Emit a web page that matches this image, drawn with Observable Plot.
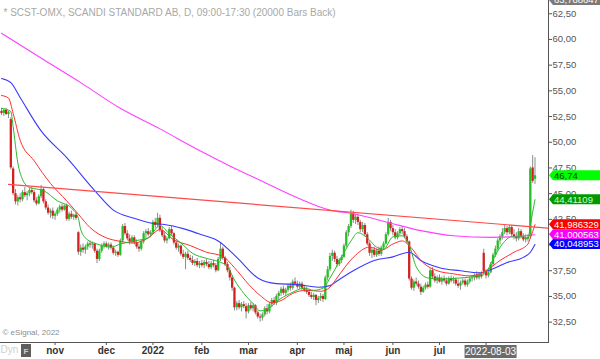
<!DOCTYPE html>
<html><head><meta charset="utf-8">
<script src="https://cdn.jsdelivr.net/npm/d3@7"></script>
<script src="https://cdn.jsdelivr.net/npm/@observablehq/plot@0.6"></script>
<style>body{margin:0;background:#fff;} #chart svg{display:block;}</style>
</head><body><div id="chart"></div>
<script>
// ---------- data ----------
const titleText = "* SCST-OMX, SCANDI STANDARD AB, D, 09:00-17:30 (20000 Bars Back)";
const copyrightText = "\u00a9 eSignal, 2022";
const dateBoxText = "2022-08-03";

const open = [
53.0,52.8,53.1,52.7,52.2,47.4,45.0,44.2,44.6,44.4,
45.1,44.8,45.0,45.3,45.1,44.3,44.0,44.7,45.4,44.2,
43.6,43.1,43.3,42.8,43.0,43.4,43.7,43.4,43.8,42.5,
43.0,42.7,42.9,41.2,39.3,39.7,39.5,39.8,40.1,40.0,
40.1,39.4,38.6,39.4,39.9,40.1,39.8,40.0,39.7,39.2,
39.3,39.0,40.4,41.8,41.1,40.6,40.3,40.7,40.2,39.8,
39.6,40.3,41.1,41.3,41.0,41.2,42.2,41.9,42.6,41.4,
40.9,40.4,40.6,41.5,41.1,40.2,39.7,39.9,39.1,38.8,
39.1,38.7,38.5,38.2,38.4,38.0,38.2,38.0,38.3,38.1,
37.8,38.2,38.0,37.5,38.6,39.6,38.7,38.1,37.5,36.8,
35.8,33.9,34.3,33.9,34.2,34.0,33.5,34.1,33.8,34.1,
33.4,33.0,32.9,33.2,33.8,33.5,34.2,34.6,34.3,35.0,
35.3,35.7,35.3,35.6,36.0,35.8,36.4,36.2,35.9,36.2,
35.8,35.6,35.4,35.1,34.9,35.1,34.6,34.8,35.0,34.7,
36.8,37.6,38.9,39.2,38.6,38.1,38.5,38.8,39.9,41.2,
41.8,43.0,42.4,42.7,42.2,41.5,41.9,41.0,40.1,39.2,
39.5,39.0,39.4,39.1,39.7,40.1,41.0,42.2,41.6,41.2,
40.7,41.1,41.5,41.3,40.8,40.3,36.7,35.8,36.4,36.2,
35.9,35.4,35.8,36.1,35.9,37.5,36.9,36.5,36.8,36.4,
36.7,36.5,36.2,36.7,36.5,36.6,36.2,36.0,36.3,36.5,
36.1,36.4,36.7,36.8,37.0,36.8,37.1,39.2,37.4,37.0,
37.3,38.1,39.0,39.6,40.4,40.8,41.2,41.6,41.2,41.7,
41.0,40.8,40.6,41.3,40.8,40.5,40.7,40.8,47.5,46.4];

const high = [
53.3,53.2,53.3,53.0,52.4,47.6,45.4,44.8,45.0,45.3,
45.6,45.2,45.5,45.6,45.3,44.6,44.9,45.8,45.6,44.4,
43.9,43.5,43.6,43.2,43.6,43.9,44.0,43.9,44.0,43.2,
43.3,43.0,43.1,41.3,40.0,40.1,40.0,40.3,40.4,40.3,
40.2,39.6,39.6,40.1,40.3,40.3,40.2,40.2,39.9,39.5,
39.4,40.6,42.0,42.1,41.4,41.0,40.9,40.9,40.5,40.1,
40.5,41.3,41.5,41.6,41.4,42.4,42.6,43.1,42.9,41.7,
41.2,40.8,41.7,41.8,41.2,40.4,40.1,40.0,39.5,39.3,
39.4,39.0,38.9,38.6,38.7,38.4,38.5,38.5,38.6,38.4,
38.4,38.5,38.2,38.8,40.2,39.8,38.9,38.3,37.8,37.0,
35.9,34.5,34.6,34.4,34.5,34.3,34.3,34.4,34.3,34.2,
33.6,33.3,33.4,34.0,34.2,34.4,34.8,34.9,35.2,35.5,
35.9,36.0,35.8,36.2,36.3,36.6,36.8,36.5,36.4,36.4,
36.1,35.9,35.7,35.4,35.3,35.2,35.0,35.3,35.2,37.0,
37.9,39.2,39.5,39.4,38.9,38.7,39.0,40.1,41.4,42.0,
43.4,43.3,42.9,43.0,42.4,42.2,42.1,41.2,40.3,39.7,
39.8,39.6,39.8,39.9,40.3,41.2,42.6,42.4,41.9,41.5,
41.3,41.7,41.8,41.6,41.0,40.4,36.9,36.6,36.8,36.5,
36.2,36.0,36.3,36.4,37.7,37.8,37.2,37.0,37.1,36.9,
37.0,36.8,36.9,37.0,36.9,36.8,36.6,36.5,36.7,36.7,
36.6,36.9,37.0,37.2,37.4,37.3,37.4,39.6,37.6,37.5,
38.3,39.2,39.9,40.6,41.0,41.6,41.9,41.8,41.9,41.9,
41.5,41.2,41.6,41.5,41.1,41.0,41.0,47.6,48.7,48.5];

const low = [
52.6,52.5,52.6,52.3,47.3,44.8,43.9,43.8,44.1,44.2,
44.6,44.3,44.7,44.9,44.1,43.8,43.9,44.5,44.0,43.4,
42.9,42.6,42.5,42.4,42.8,43.1,43.2,43.3,42.3,42.3,
42.5,42.4,42.4,39.0,38.9,39.2,39.1,39.5,39.7,39.6,
39.2,38.2,38.4,39.2,39.6,39.7,39.5,39.5,39.0,38.9,
38.8,38.9,40.2,40.9,40.4,40.0,40.1,40.0,39.6,39.3,
39.4,40.1,40.6,40.8,40.7,41.0,41.6,41.7,41.2,40.7,
40.2,40.1,40.5,40.9,40.0,39.5,39.3,38.9,38.6,37.6,
38.5,38.3,38.0,37.9,37.8,37.7,37.8,37.7,37.9,37.6,
37.6,37.8,37.3,37.4,38.4,38.5,37.9,37.3,36.5,35.5,
33.6,33.6,33.7,33.5,33.8,32.8,33.3,33.6,33.5,33.2,
32.8,32.5,32.6,33.0,33.2,33.3,33.9,34.1,34.1,34.6,
35.0,35.1,35.0,35.4,35.5,35.6,36.0,35.7,35.7,35.6,
35.4,35.2,34.9,34.7,34.6,34.1,34.3,34.5,34.4,34.6,
36.5,37.4,38.4,38.3,37.8,37.9,38.2,38.7,39.7,40.8,
41.6,42.1,42.0,41.9,41.2,41.2,40.8,39.9,38.9,38.7,
38.8,38.8,38.9,38.9,39.5,40.0,40.8,41.3,40.9,40.5,
40.5,40.9,41.0,40.6,40.1,36.5,35.6,35.5,36.0,35.7,
35.1,35.3,35.6,35.7,35.8,36.7,36.3,36.2,36.3,36.1,
36.3,36.0,36.1,36.3,36.2,36.0,35.8,35.6,36.1,35.9,
35.9,36.2,36.4,36.5,36.6,36.6,36.7,37.0,36.7,36.8,
37.2,37.9,38.8,39.4,40.0,40.5,41.0,40.9,41.0,40.8,
40.5,40.3,40.4,40.6,40.3,40.2,40.3,40.6,46.0,45.9];

const close = [
52.8,53.1,52.7,52.9,47.5,45.0,44.2,44.6,44.4,45.1,
44.8,45.0,45.3,45.1,44.3,44.0,44.7,45.4,44.2,43.6,
43.1,43.3,42.8,43.0,43.4,43.7,43.4,43.8,42.5,43.0,
42.7,42.9,42.6,39.3,39.7,39.5,39.8,40.1,40.0,40.1,
39.4,38.6,39.4,39.9,40.1,39.8,40.0,39.7,39.2,39.3,
39.0,40.4,41.8,41.1,40.6,40.3,40.7,40.2,39.8,39.6,
40.3,41.1,41.3,41.0,41.2,42.2,41.9,42.6,41.4,40.9,
40.4,40.6,41.5,41.1,40.2,39.7,39.9,39.1,38.8,39.1,
38.7,38.5,38.2,38.4,38.0,38.2,38.0,38.3,38.1,37.8,
38.2,38.0,37.5,38.6,39.6,38.7,38.1,37.5,36.8,35.8,
33.9,34.3,33.9,34.2,34.0,33.5,34.1,33.8,34.1,33.4,
33.0,32.9,33.2,33.8,33.5,34.2,34.6,34.3,35.0,35.3,
35.7,35.3,35.6,36.0,35.8,36.4,36.2,35.9,36.2,35.8,
35.6,35.4,35.1,34.9,35.1,34.6,34.8,35.0,34.7,36.8,
37.6,38.9,39.2,38.6,38.1,38.5,38.8,39.9,41.2,41.8,
43.0,42.4,42.7,42.2,41.5,41.9,41.0,40.1,39.2,39.5,
39.0,39.4,39.1,39.7,40.1,41.0,42.2,41.6,41.2,40.7,
41.1,41.5,41.3,40.8,40.3,36.7,35.8,36.4,36.2,35.9,
35.4,35.8,36.1,35.9,37.5,36.9,36.5,36.8,36.4,36.7,
36.5,36.2,36.7,36.5,36.6,36.2,36.0,36.3,36.5,36.1,
36.4,36.7,36.8,37.0,36.8,37.1,36.9,37.4,37.0,37.3,
38.1,39.0,39.6,40.4,40.8,41.2,41.6,41.2,41.7,41.0,
40.8,40.6,41.3,40.8,40.5,40.7,40.6,47.4,46.2,46.74];

// moving averages, [bar index, value]
const maGreen = [[0,53.3],[4,53.0],[5,51.5],[7,48.0],[9,46.4],[12,45.6],[18,45.3],[24,44.3],[30,43.6],[33,42.6],[34,41.5],[37,40.5],[41,40.1],[47,39.8],[51,40.1],[57,40.4],[63,40.7],[68,41.9],[72,41.1],[77,40.2],[82,39.2],[88,38.7],[93,38.4],[97,37.9],[100,36.6],[104,35.3],[108,34.3],[111,33.6],[114,33.7],[118,34.5],[124,35.3],[130,35.8],[134,35.6],[138,35.8],[141,36.8],[145,38.4],[150,40.4],[153,41.2],[157,40.7],[161,39.8],[164,39.6],[168,40.8],[172,40.9],[175,40.0],[178,37.9],[183,36.8],[188,36.7],[197,36.8],[204,37.0],[208,37.4],[211,38.6],[215,40.1],[219,40.8],[224,40.8],[226,40.6],[227,41.9],[228,43.2],[229,44.41109]];
const maRed = [[0,54.55],[3,54.3],[5,52.8],[8,50.2],[14,48.2],[21,46.0],[28,44.3],[33,43.0],[38,41.7],[45,40.7],[50,40.4],[57,40.2],[63,40.7],[68,41.5],[74,40.5],[81,39.95],[88,39.3],[95,38.9],[100,37.8],[106,36.2],[111,35.1],[116,34.4],[120,34.6],[125,35.3],[131,35.6],[137,35.5],[141,35.9],[144,36.8],[151,38.8],[158,39.8],[163,39.5],[168,40.1],[172,40.4],[176,39.7],[180,38.5],[187,37.5],[194,37.2],[201,37.0],[208,37.5],[214,38.5],[220,39.3],[226,40.1],[227,40.7],[228,41.3],[229,41.986329]];
const maBlue = [[0,56.2],[4,55.8],[8,54.35],[17,51.1],[28,48.5],[40,45.3],[48,43.4],[57,42.6],[65,42.1],[70,42.0],[78,41.6],[86,41.0],[93,40.4],[101,38.8],[110,36.8],[118,36.25],[127,36.15],[136,35.9],[141,36.05],[144,36.5],[151,37.5],[160,38.5],[168,38.85],[175,39.3],[180,38.5],[188,37.8],[197,37.5],[205,37.3],[211,37.7],[217,38.3],[224,38.8],[227,39.3],[229,40.048953]];
const maMagenta = [[0,60.6],[19,57.9],[34,55.8],[51,53.3],[68,51.3],[85,49.2],[98,47.7],[111,46.3],[128,44.5],[141,43.4],[151,43.05],[166,42.2],[180,41.4],[194,40.9],[210,40.75],[222,40.85],[229,41.000563]];
const trendLine = [[3,45.9],[234.5,41.65]];

// month ticks (the last one, aug, sits under the date box)
const monthIdx = [23,45,65,86,106,127,147,168,188,208];
const monthLabels = ["nov","dec","2022","feb","mar","apr","maj","jun","jul"];
const yTicks = [32.5,35,37.5,40,42.5,45,47.5,50,52.5,55,57.5,60,62.5];

const tagValues = [63.788647, 46.74, 44.41109, 41.986329, 41.000563, 40.048953];
const tagLabels = ["63,788647","46,74","44,41109","41,986329","41,000563","40,048953"];
const tagFills  = ["#7a7a7a","#00ff00","#009a00","#ff0000","#ff00ff","#0000ff"];
const tagInks   = ["#ffffff","#004000","#c8ffc8","#ffffff","#ffffff","#ffffff"];

// ---------- chart ----------
const FONT = "'Liberation Sans', Arial, Helvetica, sans-serif";
const bars = open.map((o, i) => ({i, o, h: high[i], l: low[i], c: close[i]}));
const fmt = d3.formatLocale({decimal: ",", thousands: " ", grouping: [3], currency: ["", ""]}).format(".2f");
const months = monthLabels.map((label, k) => ({m: monthIdx[k], label}));

function overlay(index, scales, values, dims) {
  const g = d3.create("svg:g").attr("font-family", FONT);
  const x0 = dims.width - dims.marginRight;
  // price tags on the right axis
  tagValues.forEach((v, k) => {
    const yy = scales.y(v);
    g.append("path")
      .attr("d", `M${x0 + 1},${yy} L${x0 + 5},${yy - 5} H${dims.width} V${yy + 5} H${x0 + 5} Z`)
      .attr("fill", tagFills[k]);
    g.append("text")
      .attr("x", x0 + 6).attr("y", yy).attr("dy", "0.36em")
      .attr("text-anchor", "start")
      .attr("font-size", 9.5).attr("fill", tagInks[k])
      .text(tagLabels[k]);
  });
  // date box over the last month tick
  const xd = scales.x(monthIdx[monthIdx.length - 1]) + 5;
  const yb = dims.height - dims.marginBottom;
  g.append("rect").attr("x", xd - 26).attr("y", yb + 3).attr("width", 52).attr("height", 13).attr("fill", "#6b6b6b");
  g.append("text").attr("x", xd).attr("y", yb + 9.5).attr("dy", "0.36em")
    .attr("text-anchor", "middle").attr("font-size", 10).attr("fill", "#ffffff").text(dateBoxText);
  // small icon at bottom-left
  g.append("rect").attr("x", 21).attr("y", yb + 2).attr("width", 10).attr("height", 13).attr("fill", "#5e5e5e");
  g.append("text").attr("x", 26).attr("y", yb + 9).attr("dy", "0.36em")
    .attr("text-anchor", "middle").attr("font-size", 8).attr("font-weight", "bold").attr("fill", "#cfcfcf").text("F");
  return g.node();
}

const chart = Plot.plot({
  width: 600,
  height: 359,
  marginLeft: 0,
  marginRight: 52,
  marginTop: 0,
  marginBottom: 17,
  style: {fontFamily: FONT, fontSize: "9.5px", color: "#555", background: "#ffffff", overflow: "visible"},
  x: {domain: [-0.43, 234.8], axis: "bottom", ticks: monthIdx, tickFormat: () => "", tickSize: 3, line: true, label: null},
  y: {domain: [30.52, 63.788647], axis: "right", ticks: yTicks, tickFormat: fmt, tickSize: 3, tickPadding: 1, line: true, label: null},
  marks: [
    Plot.ruleX(bars, {x: "i", y1: "l", y2: "h", stroke: "#8c8c8c", strokeWidth: 1}),
    Plot.ruleX(bars, {x: "i", y1: "o", y2: "c", stroke: d => d.c >= d.o ? "#22c022" : "#d42020", strokeWidth: 2.3}),
    Plot.line(maMagenta, {x: d => d[0], y: d => d[1], stroke: "#ff40ff", strokeWidth: 1.1, curve: "monotone-x"}),
    Plot.line(maBlue, {x: d => d[0], y: d => d[1], stroke: "#3a3aff", strokeWidth: 1.1, curve: "monotone-x"}),
    Plot.line(maRed, {x: d => d[0], y: d => d[1], stroke: "#ff3030", strokeWidth: 1, curve: "monotone-x"}),
    Plot.line(maGreen, {x: d => d[0], y: d => d[1], stroke: "#2db82d", strokeWidth: 1, curve: "monotone-x"}),
    Plot.line(trendLine, {x: d => d[0], y: d => d[1], stroke: "#ff4a4a", strokeWidth: 1.2}),
    Plot.text([titleText], {frameAnchor: "top-left", dx: 3, dy: 8, textAnchor: "start", fill: "#a8a8a8", fontSize: 10}),
    Plot.text([copyrightText], {frameAnchor: "bottom-left", dx: 2, dy: -8, textAnchor: "start", fill: "#8c8c8c", fontSize: 8}),
    Plot.text(["Dyn"], {frameAnchor: "bottom-left", dx: 0, dy: 10, textAnchor: "start", fill: "#cfcfcf", fontSize: 10}),
    Plot.text(months, {x: "m", text: "label", frameAnchor: "bottom", dy: 11, fill: "#333333", fontSize: 10, fontWeight: "bold"}),
    overlay
  ]
});
document.getElementById("chart").append(chart);
</script>
</body></html>
